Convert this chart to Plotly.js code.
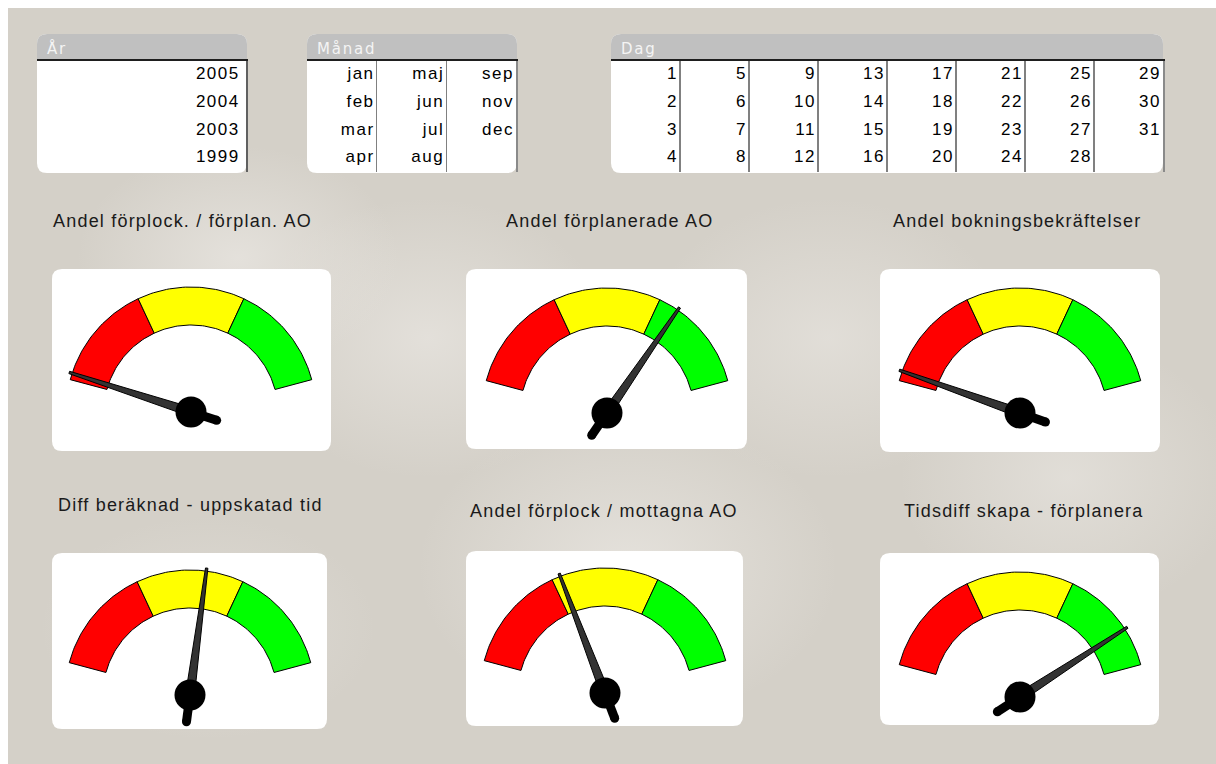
<!DOCTYPE html>
<html>
<head>
<meta charset="utf-8">
<script src="https://cdn.plot.ly/plotly-3.0.1.min.js"></script>
<style>
html,body{margin:0;padding:0;background:#ffffff;width:1216px;height:764px;overflow:hidden;}
#chart{position:absolute;left:8px;top:8px;width:1208px;height:756px;
background:
 radial-gradient(ellipse 230px 160px at 230px 250px, rgba(232,229,224,0.8), rgba(232,229,224,0) 70%),
 radial-gradient(ellipse 260px 200px at 420px 330px, rgba(232,229,224,0.75), rgba(232,229,224,0) 70%),
 radial-gradient(ellipse 260px 200px at 820px 330px, rgba(232,229,224,0.65), rgba(232,229,224,0) 70%),
 radial-gradient(ellipse 300px 220px at 620px 560px, rgba(234,231,226,0.75), rgba(234,231,226,0) 70%),
 radial-gradient(ellipse 240px 200px at 1060px 470px, rgba(232,229,224,0.65), rgba(232,229,224,0) 70%),
 radial-gradient(ellipse 240px 160px at 200px 620px, rgba(230,227,222,0.55), rgba(230,227,222,0) 70%),
 #d4d0c8;}
.annotation-text{letter-spacing:1.2px;}
.annotation-text[style*="DejaVu"]{letter-spacing:1.8px;}
.textpoint text{letter-spacing:1.5px;}
</style>
</head>
<body>
<div id="chart"></div>
<script>
// ---------------- DATA ----------------
const listTitles = ['År', 'Månad', 'Dag'];
const yearItems = ['2005', '2004', '2003', '1999'];
const monthItems = ['jan', 'feb', 'mar', 'apr', 'maj', 'jun', 'jul', 'aug', 'sep', 'nov', 'dec'];
const dayItems = ['1', '2', '3', '4', '5', '6', '7', '8', '9', '10', '11', '12', '13', '14', '15', '16',
                  '17', '18', '19', '20', '21', '22', '23', '24', '25', '26', '27', '28', '29', '30', '31'];

const gaugeTitles = [
  'Andel förplock. / förplan. AO',
  'Andel förplanerade AO',
  'Andel bokningsbekräftelser',
  'Diff beräknad - uppskatad tid',
  'Andel förplock / mottagna AO',
  'Tidsdiff skapa - förplanera'
];
const gaugeValues = [2, 73, 3, 55, 36, 88];
const gaugeMin = 0;
const gaugeMax = 100;
const bandLimits = [0, 33.33, 66.67, 100];
const bandColors = ['#ff0000', '#ffff00', '#00ff00'];

// ---------------- GEOMETRY / STYLE ----------------
const W = 1208, H = 756, OX = 8, OY = 8;
const px = x => (x - OX) / W;
const py = y => 1 - (y - OY) / H;

const ROWS = 4;
const listBoxes = [
  {x0: 37,  x1: 247,  inner: 246,  y0: 34, y1: 173, cols: 1, items: yearItems},
  {x0: 307, x1: 517,  inner: 516,  y0: 34, y1: 173, cols: 3, items: monthItems},
  {x0: 611, x1: 1163, inner: 1163, y0: 34, y1: 173, cols: 8, items: dayItems}
];
const HEADER_BOTTOM = 60;

const gaugePanels = [
  {x0: 52,  x1: 331,  y0: 269, y1: 451, cx: 191,  cy: 412, tx: 51,  ty: 227},
  {x0: 466, x1: 747,  y0: 269, y1: 449, cx: 607,  cy: 413, tx: 504, ty: 227},
  {x0: 880, x1: 1160, y0: 269, y1: 452, cx: 1020, cy: 413, tx: 891, ty: 227},
  {x0: 52,  x1: 327,  y0: 553, y1: 729, cx: 190,  cy: 695, tx: 56,  ty: 511},
  {x0: 466, x1: 743,  y0: 551, y1: 726, cx: 605,  cy: 693, tx: 468, ty: 517},
  {x0: 880, x1: 1159, y0: 553, y1: 725, cx: 1020, cy: 697, tx: 902, ty: 517}
];
const R_OUT = 125, R_IN = 87;
const ARC_START = 165, ARC_SPAN = 150;
const NEEDLE_LEN = 128, NEEDLE_BASE = 4.5, NEEDLE_TIP = 1.2;
const TAIL_LEN = 27, TAIL_W = 9, HUB_SIZE = 31;

const angleOf = v => (ARC_START - (v - gaugeMin) / (gaugeMax - gaugeMin) * ARC_SPAN) * Math.PI / 180;

function roundRect(x0, y0, x1, y1, r, top = true, bottom = true) {
  const rt = top ? r : 0, rb = bottom ? r : 0;
  return 'M' + px(x0 + rt) + ',' + py(y0) +
    ' L' + px(x1 - rt) + ',' + py(y0) +
    ' Q' + px(x1) + ',' + py(y0) + ' ' + px(x1) + ',' + py(y0 + rt) +
    ' L' + px(x1) + ',' + py(y1 - rb) +
    ' Q' + px(x1) + ',' + py(y1) + ' ' + px(x1 - rb) + ',' + py(y1) +
    ' L' + px(x0 + rb) + ',' + py(y1) +
    ' Q' + px(x0) + ',' + py(y1) + ' ' + px(x0) + ',' + py(y1 - rb) +
    ' L' + px(x0) + ',' + py(y0 + rt) +
    ' Q' + px(x0) + ',' + py(y0) + ' ' + px(x0 + rt) + ',' + py(y0) + ' Z';
}

const traces = [];
const layout = {
  width: W, height: H,
  margin: {l: 0, r: 0, t: 0, b: 0},
  paper_bgcolor: 'rgba(0,0,0,0)',
  plot_bgcolor: 'rgba(0,0,0,0)',
  showlegend: false,
  hovermode: false,
  shapes: [],
  annotations: []
};

// ---------------- LIST BOXES ----------------
listBoxes.forEach((b, i) => {
  const k = i + 1;
  const xa = 'xaxis' + (k === 1 ? '' : k), ya = 'yaxis' + (k === 1 ? '' : k);
  const xr = 'x' + (k === 1 ? '' : k), yr = 'y' + (k === 1 ? '' : k);
  layout.shapes.push({type: 'path', xref: 'paper', yref: 'paper', layer: 'below',
    path: roundRect(b.x0, b.y0, b.x1, b.y1, 10), fillcolor: '#ffffff', line: {width: 0}});
  layout.shapes.push({type: 'path', xref: 'paper', yref: 'paper', layer: 'below',
    path: roundRect(b.x0, b.y0, b.x1, HEADER_BOTTOM, 10, true, false), fillcolor: '#c0c0c0', line: {width: 0}});
  layout.annotations.push({xref: 'paper', yref: 'paper', x: px(b.x0 + 8), y: py(49),
    xanchor: 'left', yanchor: 'middle', showarrow: false, text: listTitles[i],
    font: {family: 'DejaVu Sans', size: 15, color: '#f4f4f4'}});
  const bounds = [];
  for (let c = 1; c < b.cols; c++) bounds.push(c);
  layout[xa] = {domain: [px(b.x0), px(b.inner)], range: [0, b.cols], tickvals: bounds,
    showgrid: true, gridcolor: '#808080', gridwidth: 1.5, showticklabels: false, ticks: '',
    zeroline: false, side: 'top', showline: true, linecolor: '#1e1e1e', linewidth: 2,
    anchor: yr, fixedrange: true};
  layout[ya] = {domain: [py(b.y1 - 1), py(HEADER_BOTTOM + 1)], range: [ROWS, 0], showgrid: false,
    showticklabels: false, ticks: '', zeroline: false, side: 'right', showline: true,
    linecolor: i === 0 ? '#606060' : '#8a8a8a', linewidth: i === 0 ? 2 : 1.5, anchor: xr, fixedrange: true};
  traces.push({
    type: 'scatter', mode: 'text', xaxis: xr, yaxis: yr, cliponaxis: false,
    x: b.items.map((_, j) => Math.floor(j / ROWS) + 0.97),
    y: b.items.map((_, j) => (j % ROWS) + 0.5),
    text: b.items, textposition: 'middle left',
    textfont: {family: 'Liberation Sans, Arial', size: 17, color: '#000000'},
    hoverinfo: 'skip'
  });
});

// ---------------- GAUGES ----------------
gaugePanels.forEach((p, i) => {
  const k = i + 4;
  const xa = 'xaxis' + k, ya = 'yaxis' + k, xr = 'x' + k, yr = 'y' + k;
  layout.shapes.push({type: 'path', xref: 'paper', yref: 'paper', layer: 'below',
    path: roundRect(p.x0, p.y0, p.x1, p.y1, 10), fillcolor: '#ffffff', line: {width: 0}});
  layout.annotations.push({xref: 'paper', yref: 'paper', x: px(p.tx), y: py(p.ty - 6),
    xanchor: 'left', yanchor: 'middle', showarrow: false, text: gaugeTitles[i],
    font: {family: 'Liberation Sans, Arial', size: 18, color: '#1a1a1a'}});
  layout[xa] = {domain: [px(p.x0), px(p.x1)], range: [p.x0 - p.cx, p.x1 - p.cx], visible: false,
    anchor: yr, fixedrange: true};
  layout[ya] = {domain: [py(p.y1), py(p.y0)], range: [p.cy - p.y1, p.cy - p.y0], visible: false,
    anchor: xr, fixedrange: true};

  // colour bands
  for (let j = 0; j < bandColors.length; j++) {
    const a0 = angleOf(bandLimits[j]), a1 = angleOf(bandLimits[j + 1]);
    const xs = [], ys = [];
    const n = 40;
    for (let s = 0; s <= n; s++) { const a = a0 + (a1 - a0) * s / n; xs.push(R_OUT * Math.cos(a)); ys.push(R_OUT * Math.sin(a)); }
    for (let s = n; s >= 0; s--) { const a = a0 + (a1 - a0) * s / n; xs.push(R_IN * Math.cos(a)); ys.push(R_IN * Math.sin(a)); }
    xs.push(xs[0]); ys.push(ys[0]);
    traces.push({type: 'scatter', mode: 'lines', xaxis: xr, yaxis: yr, x: xs, y: ys,
      fill: 'toself', fillcolor: bandColors[j], line: {color: '#000000', width: 1}, hoverinfo: 'skip'});
  }

  // needle
  const a = angleOf(gaugeValues[i]);
  const ux = Math.cos(a), uy = Math.sin(a), nx = -uy, ny = ux;
  traces.push({type: 'scatter', mode: 'lines', xaxis: xr, yaxis: yr,
    x: [nx * NEEDLE_BASE, ux * NEEDLE_LEN + nx * NEEDLE_TIP, ux * NEEDLE_LEN - nx * NEEDLE_TIP, -nx * NEEDLE_BASE, nx * NEEDLE_BASE],
    y: [ny * NEEDLE_BASE, uy * NEEDLE_LEN + ny * NEEDLE_TIP, uy * NEEDLE_LEN - ny * NEEDLE_TIP, -ny * NEEDLE_BASE, ny * NEEDLE_BASE],
    fill: 'toself', fillcolor: '#333333', line: {color: '#000000', width: 1}, hoverinfo: 'skip'});
  // tail
  traces.push({type: 'scatter', mode: 'lines', xaxis: xr, yaxis: yr,
    x: [0, -ux * TAIL_LEN], y: [0, -uy * TAIL_LEN],
    line: {color: '#000000', width: TAIL_W}, hoverinfo: 'skip'});
  traces.push({type: 'scatter', mode: 'markers', xaxis: xr, yaxis: yr,
    x: [-ux * TAIL_LEN], y: [-uy * TAIL_LEN],
    marker: {size: TAIL_W, color: '#000000', opacity: 1, line: {width: 0}}, hoverinfo: 'skip'});
  // hub
  traces.push({type: 'scatter', mode: 'markers', xaxis: xr, yaxis: yr, x: [0], y: [0],
    marker: {size: HUB_SIZE, color: '#000000', opacity: 1, line: {width: 0}}, hoverinfo: 'skip'});
});

Plotly.newPlot('chart', traces, layout, {staticPlot: true, displayModeBar: false});
</script>
</body>
</html>
